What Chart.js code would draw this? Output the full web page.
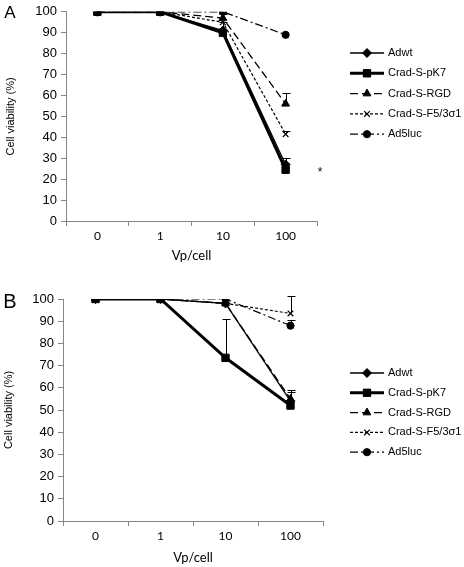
<!DOCTYPE html>
<html>
<head>
<meta charset="utf-8">
<script src="https://cdn.jsdelivr.net/npm/chart.js@4.4.1/dist/chart.umd.min.js"></script>
<style>
  html, body { margin: 0; padding: 0; background: #fff; }
  .panel { position: relative; width: 464px; }
</style>
</head>
<body>
<div class="panel" style="height:283px"><canvas id="chart-a" width="464" height="283"></canvas></div>
<div class="panel" style="height:284px"><canvas id="chart-b" width="464" height="284"></canvas></div>
<script>
// categorias do eixo X (Vp/cell)
const doses = ['0', '1', '10', '100'];
const seriesNames = ['Adwt', 'Crad-S-pK7', 'Crad-S-RGD', 'Crad-S-F5/3\u03c31', 'Ad5luc'];

// Painel A: viabilidade (%)
const aAdwt   = [100, 100, 91, 27];
const aPK7    = [100, 100, 90, 24.5];
const aRGD    = [100, 100, 97, 56];
const aF5     = [100, 100, 95, 41.5];
const aAd5luc = [100, 100, 100, 89];
// erros (barra só para cima)
const aAdwtErr   = [0, 0, 4, 3];
const aPK7Err    = [0, 0, 0, 0];
const aRGDErr    = [0, 0, 2, 5];
const aF5Err     = [0, 0, 0, 1.5];
const aAd5lucErr = [0, 0, 0, 0];

// Painel B
const bAdwt   = [100, 100, 98, 54];
const bPK7    = [100, 100, 73.5, 52];
const bRGD    = [100, 100, 98, 55];
const bF5     = [100, 100, 98, 93.5];
const bAd5luc = [100, 100, 100, 88];
const bAdwtErr   = [0, 0, 0, 5];
const bPK7Err    = [0, 0, 17.5, 6];
const bRGDErr    = [0, 0, 0, 0];
const bF5Err     = [0, 0, 0, 8];
const bAd5lucErr = [0, 0, 0, 2.5];

const yTicks = [0, 10, 20, 30, 40, 50, 60, 70, 80, 90, 100];

const AXIS = '#868686';

// estilos de cada série (na ordem da legenda)
const styles = [
  { pointStyle: 'rectRot',  radius: 4.5, width: 1.3, dash: [],            order: 2 },
  { pointStyle: 'rect',     radius: 5.2, width: 3,   dash: [],            order: 0 },
  { pointStyle: 'triangle', radius: 4.5, width: 1.3, dash: [8, 4],        order: 3 },
  { pointStyle: 'crossRot', radius: 4,   width: 1.2, dash: [3, 2],        order: 4 },
  { pointStyle: 'circle',   radius: 3.6, width: 1.2, dash: [8, 3, 2, 3],  order: 1 }
];

const makeDatasets = (values, errors) => values.map((v, i) => ({
  label: seriesNames[i],
  data: v,
  errors: errors[i],
  borderColor: '#000',
  backgroundColor: '#000',
  borderWidth: styles[i].width,
  borderDash: styles[i].dash,
  pointStyle: styles[i].pointStyle,
  pointRadius: styles[i].radius,
  pointBorderWidth: styles[i].pointStyle === 'crossRot' ? 1.2 : 1,
  pointBackgroundColor: '#000',
  pointBorderColor: '#000',
  order: styles[i].order,
  tension: 0
}));

// barras de erro unilaterais
const errorBars = {
  id: 'errorBars',
  afterDatasetsDraw(chart) {
    const { ctx, scales: { x, y } } = chart;
    ctx.save();
    ctx.strokeStyle = '#000';
    ctx.lineWidth = 1;
    ctx.setLineDash([]);
    chart.data.datasets.forEach(ds => {
      (ds.errors || []).forEach((e, i) => {
        if (!e) return;
        const px = Math.round(x.getPixelForValue(i)) + 0.5;
        const y0 = y.getPixelForValue(ds.data[i]);
        const y1 = Math.round(y.getPixelForValue(ds.data[i] + e)) + 0.5;
        ctx.beginPath();
        ctx.moveTo(px, y0);
        ctx.lineTo(px, y1);
        ctx.moveTo(px - 4, y1);
        ctx.lineTo(px + 4, y1);
        ctx.stroke();
      });
    });
    ctx.restore();
  }
};

// legenda lateral: linha + marcador + texto
const sideLegend = {
  id: 'sideLegend',
  afterDraw(chart, args, opts) {
    const { ctx } = chart;
    ctx.save();
    ctx.font = '11px "Liberation Sans", Arial, sans-serif';
    ctx.textBaseline = 'middle';
    ctx.fillStyle = '#000';
    chart.data.datasets.forEach((ds, i) => {
      const yy = opts.y + i * opts.step;
      ctx.strokeStyle = '#000';
      ctx.lineWidth = ds.borderWidth;
      ctx.setLineDash(ds.borderDash);
      ctx.beginPath();
      ctx.moveTo(opts.x, yy);
      ctx.lineTo(opts.x + 34, yy);
      ctx.stroke();
      ctx.setLineDash([]);
      ctx.lineWidth = ds.pointBorderWidth;
      Chart.helpers.drawPoint(ctx, {
        pointStyle: ds.pointStyle, radius: ds.pointRadius, rotation: 0, borderWidth: ds.pointBorderWidth
      }, opts.x + 17, yy);
      ctx.fillText(ds.label, opts.x + 38, yy);
    });
    ctx.restore();
  }
};

// letra do painel e asterisco
const marks = {
  id: 'marks',
  afterDraw(chart, args, opts) {
    const { ctx, chartArea, scales: { y } } = chart;
    ctx.save();
    ctx.fillStyle = '#000';
    ctx.textBaseline = 'middle';
    ctx.textAlign = 'center';
    ctx.font = opts.letterSize + 'px "Liberation Sans", Arial, sans-serif';
    ctx.fillText(opts.letter, opts.lx, opts.ly);
    if (opts.star != null) {
      ctx.font = '12px "Liberation Sans", Arial, sans-serif';
      ctx.fillText('*', chartArea.right + 3, y.getPixelForValue(opts.star) + 2);
    }
    ctx.restore();
  }
};

function buildChart(id, values, errors, cfg) {
  return new Chart(document.getElementById(id), {
    type: 'line',
    data: { labels: doses, datasets: makeDatasets(values, errors) },
    options: {
      responsive: false,
      animation: false,
      layout: { padding: { left: 0, right: cfg.right, top: cfg.top, bottom: 0 } },
      scales: {
        x: {
          offset: true,
          grid: { offset: true, drawOnChartArea: false, tickLength: 5, color: AXIS },
          border: { color: AXIS },
          ticks: { color: '#000', padding: 3, font: { family: 'Lato', size: 12 } },
          title: {
            display: true, text: 'Vp/cell', color: '#000',
            font: { family: 'Lato', size: 13 },
            padding: { top: 0, bottom: cfg.titleBottom }
          },
          afterFit: s => { s.height = cfg.xHeight; }
        },
        y: {
          min: 0, max: 100,
          afterBuildTicks: s => { s.ticks = yTicks.map(v => ({ value: v })); },
          grid: { drawOnChartArea: false, tickLength: 5, color: AXIS },
          border: { color: AXIS },
          ticks: { color: '#000', padding: 4, font: { family: 'Liberation Sans', size: 13 } },
          title: {
            display: true, text: 'Cell viability (%)', color: '#000',
            font: { family: 'Liberation Sans', size: 11 },
            padding: { top: cfg.titleLeft, bottom: 0 }
          },
          afterFit: s => { s.width = cfg.left; }
        }
      },
      plugins: {
        legend: { display: false },
        tooltip: { enabled: false },
        sideLegend: { x: 350, y: cfg.legendY, step: cfg.legendStep },
        marks: cfg.marks
      }
    },
    plugins: [errorBars, sideLegend, marks]
  });
}

buildChart('chart-a',
  [aAdwt, aPK7, aRGD, aF5, aAd5luc],
  [aAdwtErr, aPK7Err, aRGDErr, aF5Err, aAd5lucErr],
  { left: 66, right: 147, top: 5, xHeight: 62, titleBottom: 19, titleLeft: 4,
    legendY: 53, legendStep: 20.3,
    marks: { letter: 'A', letterSize: 17, lx: 10, ly: 13, star: 24 } });

buildChart('chart-b',
  [bAdwt, bPK7, bRGD, bF5, bAd5luc],
  [bAdwtErr, bPK7Err, bRGDErr, bF5Err, bAd5lucErr],
  { left: 63, right: 141, top: 16, xHeight: 46, titleBottom: 1, titleLeft: 2,
    legendY: 90, legendStep: 19.8,
    marks: { letter: 'B', letterSize: 20, lx: 10, ly: 19, star: null } });
</script>
</body>
</html>
